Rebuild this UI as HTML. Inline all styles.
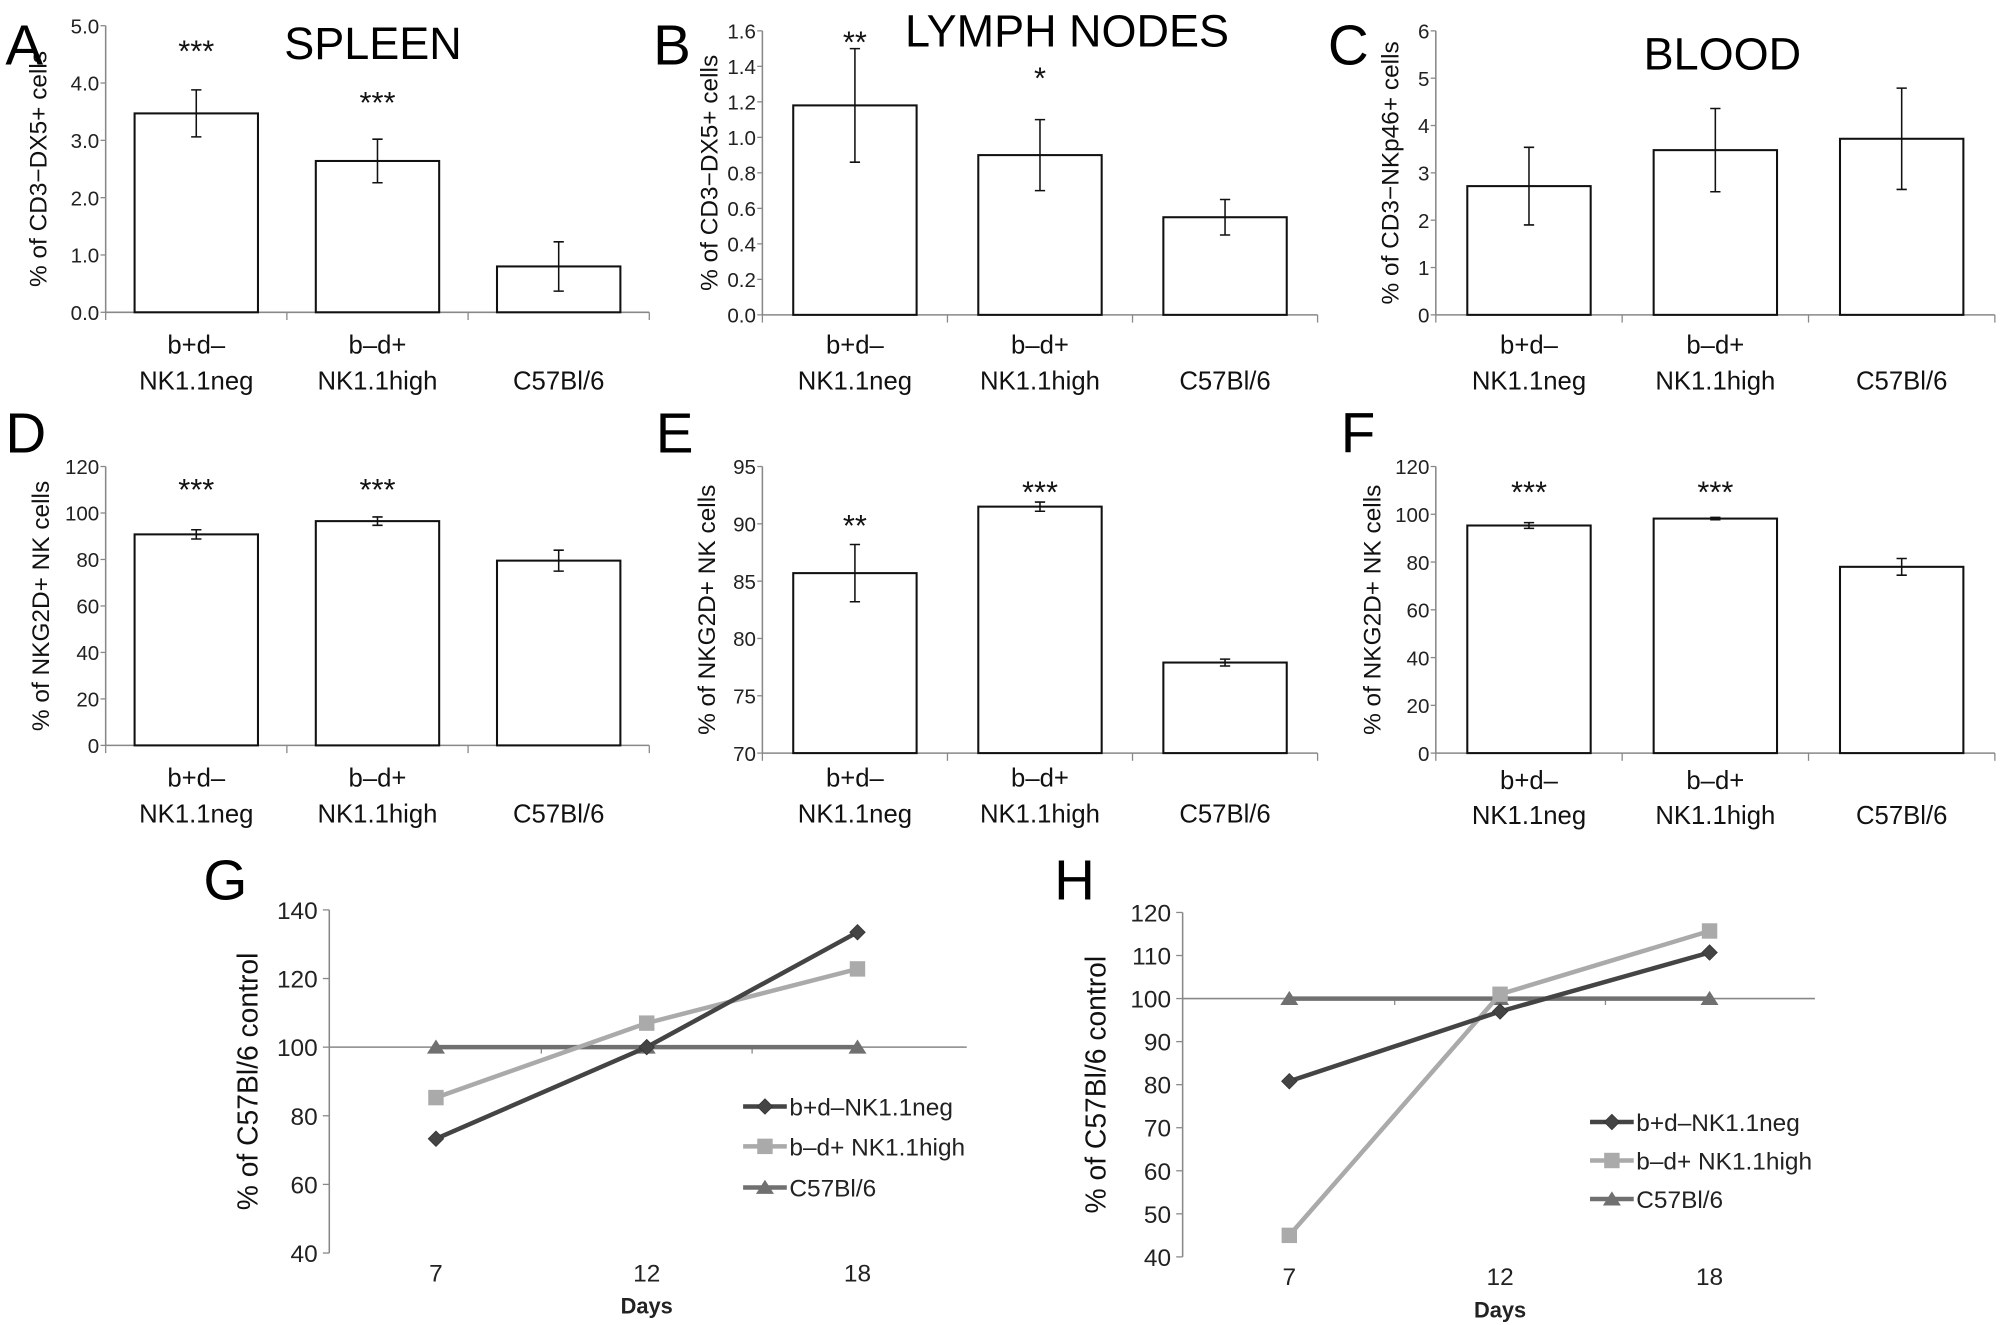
<!DOCTYPE html>
<html><head><meta charset="utf-8"><style>
html,body{margin:0;padding:0;background:#fff;}
svg{display:block;font-family:"Liberation Sans",sans-serif;}
</style></head><body>
<svg id="fig" width="2008" height="1325" viewBox="0 0 1562 1031" xmlns="http://www.w3.org/2000/svg"></svg>
<script>
// ---- data ----
const barCategories = [["b+d–","NK1.1neg"],["b–d+","NK1.1high"],["C57Bl/6",""]];
const aValues = [3.47, 2.64, 0.80];
const aErrors = [0.41, 0.38, 0.43];
const aStars = ["***","***",""];
const aTicks = ["0.0","1.0","2.0","3.0","4.0","5.0"];
const bValues = [1.18, 0.90, 0.55];
const bErrors = [0.32, 0.20, 0.10];
const bStars = ["**","*",""];
const bTicks = ["0.0","0.2","0.4","0.6","0.8","1.0","1.2","1.4","1.6"];
const cValues = [2.72, 3.48, 3.72];
const cErrors = [0.82, 0.88, 1.07];
const cStars = ["","",""];
const cTicks = ["0","1","2","3","4","5","6"];
const dValues = [90.8, 96.5, 79.5];
const dErrors = [2.0, 1.8, 4.5];
const dStars = ["***","***",""];
const dTicks = ["0","20","40","60","80","100","120"];
const eValues = [85.7, 91.5, 77.9];
const eErrors = [2.5, 0.4, 0.3];
const eStars = ["**","***",""];
const eTicks = ["70","75","80","85","90","95"];
const fValues = [95.3, 98.2, 78.0];
const fErrors = [1.2, 0.5, 3.5];
const fStars = ["***","***",""];
const fTicks = ["0","20","40","60","80","100","120"];
const dayLabels = ["7","12","18"];
const gDark = [73.3, 100, 133.5];
const gLight = [85.3, 107, 122.8];
const gTri = [100, 100, 100];
const gTicks = ["40","60","80","100","120","140"];
const hDark = [80.8, 97, 110.7];
const hLight = [45, 101, 115.7];
const hTri = [100, 100, 100];
const hTicks = ["40","50","60","70","80","90","100","110","120"];
const seriesNames = ["b+d\u2013NK1.1neg","b\u2013d+ NK1.1high","C57Bl/6"];

const NS="http://www.w3.org/2000/svg";
const svg=document.getElementById('fig');
function mk(tag,attrs,parent,text){const e=document.createElementNS(NS,tag);for(const k in attrs)e.setAttribute(k,attrs[k]);if(text!==undefined)e.textContent=text;(parent||svg).appendChild(e);return e;}

function barPanel(id,o,vals,errs,stars,ticks){
  const g=mk('g',{});
  
  
  const t0=parseFloat(ticks[0]),t1=parseFloat(ticks[ticks.length-1]);
  const y=v=>o.y0+(v-t0)/(t1-t0)*(o.yT-o.y0);
  const ax=mk('line',{x1:o.ax,y1:o.yT,x2:o.ax,y2:o.y0,stroke:'#888','stroke-width':1.2},g);
  
  const xa=mk('line',{x1:o.ax,y1:o.y0,x2:o.xEnd,y2:o.y0,stroke:'#888','stroke-width':1.2},g);
  
  ticks.forEach(tl=>{const v=parseFloat(tl);const yy=y(v);
    mk('line',{x1:o.ax-4,y1:yy,x2:o.ax,y2:yy,stroke:'#888'},g);
    const t=mk('text',{x:o.ax-5,y:yy+6,'font-size':16,'text-anchor':'end',fill:'#222'},g,tl);
    });
  const cw=(o.xEnd-o.ax)/3;
  for(let i=0;i<=3;i++)mk('line',{x1:o.ax+cw*i,y1:o.y0,x2:o.ax+cw*i,y2:o.y0+6,stroke:'#888'},g);
  vals.forEach((v,i)=>{
    const cx=o.ax+cw*(i+0.5);const bw=o.bw;
    const r=mk('rect',{x:cx-bw/2,y:y(v),width:bw,height:o.y0-y(v),fill:'#fff',stroke:'#111','stroke-width':1.6},g);
    
    const hi=y(v+errs[i]),lo=y(v-errs[i]);
    const eb=mk('path',{d:`M${cx},${hi}V${lo}M${cx-4},${hi}H${cx+4}M${cx-4},${lo}H${cx+4}`,stroke:'#111','stroke-width':1.2,fill:'none'},g);
    
    if(stars[i]){const s=mk('text',{x:cx,y:o.starY[i],'font-size':24,'text-anchor':'middle',fill:'#111'},g,stars[i]);
      }
    const l1=mk('text',{x:cx,y:o.labY[0],'font-size':20,'text-anchor':'middle',fill:'#111'},g,barCategories[i][0]);
    
    if(barCategories[i][1]){const l2=mk('text',{x:cx,y:o.labY[1],'font-size':20,'text-anchor':'middle',fill:'#111'},g,barCategories[i][1]);
      }
    else{l1.setAttribute('y',o.labY[1]);}
  });
  const yl=mk('text',{x:0,y:0,'font-size':19,'text-anchor':'middle',fill:'#111',transform:`translate(${o.ylX},${(o.y0+o.yT)/2}) rotate(-90)`},g,o.ylabel);
  
  const L=mk('text',{x:o.letter[0],y:o.letter[1],'font-size':44,fill:'#000'},g,id);
  
  if(o.title){const T=mk('text',{x:o.title[1],y:o.title[2],'font-size':35,'text-anchor':'middle',fill:'#000'},g,o.title[0]);
    }
}
barPanel('A',{ax:82,y0:243,yT:20,xEnd:505,bw:96,starY:[48,88],labY:[275,303],ylX:36,ylabel:'% of CD3\u2212DX5+ cells',letter:[4,50],title:['SPLEEN',290,46]},aValues,aErrors,aStars,aTicks);
barPanel('B',{ax:593,y0:245,yT:24,xEnd:1025,bw:96,starY:[41,69],labY:[275,303],ylX:558,ylabel:'% of CD3\u2212DX5+ cells',letter:[508,50],title:['LYMPH NODES',830,36]},bValues,bErrors,bStars,bTicks);
barPanel('C',{ax:1117,y0:245,yT:24,xEnd:1552,bw:96,starY:[0,0],labY:[275,303],ylX:1088,ylabel:'% of CD3\u2212NKp46+ cells',letter:[1033,50],title:['BLOOD',1340,54]},cValues,cErrors,cStars,cTicks);
barPanel('D',{ax:82,y0:580,yT:363,xEnd:505,bw:96,starY:[389,389],labY:[612,640],ylX:38,ylabel:'% of NKG2D+ NK cells',letter:[4,352],title:null},dValues,dErrors,dStars,dTicks);
barPanel('E',{ax:593,y0:586,yT:363,xEnd:1025,bw:96,starY:[417,391],labY:[612,640],ylX:556,ylabel:'% of NKG2D+ NK cells',letter:[510,352],title:null},eValues,eErrors,eStars,eTicks);
barPanel('F',{ax:1117,y0:586,yT:363,xEnd:1552,bw:96,starY:[391,391],labY:[614,641],ylX:1074,ylabel:'% of NKG2D+ NK cells',letter:[1043,352],title:null},fValues,fErrors,fStars,fTicks);

function marker(g,type,x,y,color){
  let e;
  if(type==='d')e=mk('path',{d:`M${x},${y-6}L${x+6},${y}L${x},${y+6}L${x-6},${y}Z`,fill:color,stroke:'#333','stroke-width':0.6},g);
  else if(type==='s')e=mk('rect',{x:x-6,y:y-6,width:12,height:12,fill:color},g);
  else e=mk('path',{d:`M${x},${y-6}L${x+7},${y+5}L${x-7},${y+5}Z`,fill:color},g);
  return e;
}
function linePanel(id,o,ticks,series){
  const g=mk('g',{});
  
  
  const t0=parseFloat(ticks[0]),t1=parseFloat(ticks[ticks.length-1]);
  const y=v=>o.y0+(v-t0)/(t1-t0)*(o.yT-o.y0);
  const ax=mk('line',{x1:o.ax,y1:o.yT,x2:o.ax,y2:o.y0,stroke:'#888','stroke-width':1.2},g);
  
  const xa=mk('line',{x1:o.ax,y1:y(100),x2:o.xEnd,y2:y(100),stroke:'#888','stroke-width':1.2},g);
  
  o.catTicks.forEach(cx=>mk('line',{x1:cx,y1:y(100),x2:cx,y2:y(100)+5,stroke:'#888'},g));
  ticks.forEach(tl=>{const yy=y(parseFloat(tl));
    mk('line',{x1:o.ax-5,y1:yy,x2:o.ax,y2:yy,stroke:'#888'},g);
    const t=mk('text',{x:o.ax-9,y:yy+7,'font-size':19,'text-anchor':'end',fill:'#222'},g,tl);
    });
  dayLabels.forEach((d,i)=>{const px=o.dayX[i];
    const t=mk('text',{x:px,y:o.dayY,'font-size':19,'text-anchor':'middle',fill:'#222'},g,d);
    });
  const xt=mk('text',{x:o.dayX[1],y:o.dayY+25,'font-size':17,'font-weight':'bold','text-anchor':'middle',fill:'#222'},g,'Days');
  
  const order=[2,1,0];
  order.forEach(si=>{const s=series[si];
    const pts=s.vals.map((v,i)=>`${o.dayX[i]},${y(v)}`).join(' ');
    const pl=mk('polyline',{points:pts,fill:'none',stroke:s.color,'stroke-width':3.5},g);
    
    s.vals.forEach((v,i)=>{const m=marker(g,s.m,o.dayX[i],y(v),s.color);
      });
  });
  series.forEach((s,i)=>{const ly=o.legY[i];
    const lg=mk('g',{},g);
    
    mk('line',{x1:o.legX,y1:ly,x2:o.legX+34,y2:ly,stroke:s.color,'stroke-width':3.5},lg);
    marker(lg,s.m,o.legX+17,ly,s.color);
    mk('text',{x:o.legX+36,y:ly+7,'font-size':19,fill:'#222'},lg,seriesNames[i]);
  });
  const yl=mk('text',{x:0,y:0,'font-size':22,'text-anchor':'middle',fill:'#111',transform:`translate(${o.ylX},${(o.y0+o.yT)/2}) rotate(-90)`},g,'% of C57Bl/6 control');
  
  const L=mk('text',{x:o.letter[0],y:o.letter[1],'font-size':44,fill:'#000'},g,id);
  
}
linePanel('G',{ax:256,y0:975,yT:708,xEnd:752,dayX:[339,503,667],catTicks:[421,585],dayY:997,legX:578,legY:[861,892,924],ylX:200,letter:[158,700]},gTicks,
  [{vals:gDark,color:'#444',m:'d'},{vals:gLight,color:'#aaa',m:'s'},{vals:gTri,color:'#707070',m:'t'}]);
linePanel('H',{ax:920,y0:978,yT:710,xEnd:1412,dayX:[1003,1167,1330],catTicks:[1085,1249],dayY:1000,legX:1237,legY:[873,903,933],ylX:860,letter:[820,700]},hTicks,
  [{vals:hDark,color:'#444',m:'d'},{vals:hLight,color:'#aaa',m:'s'},{vals:hTri,color:'#707070',m:'t'}]);
</script>
</body></html>
